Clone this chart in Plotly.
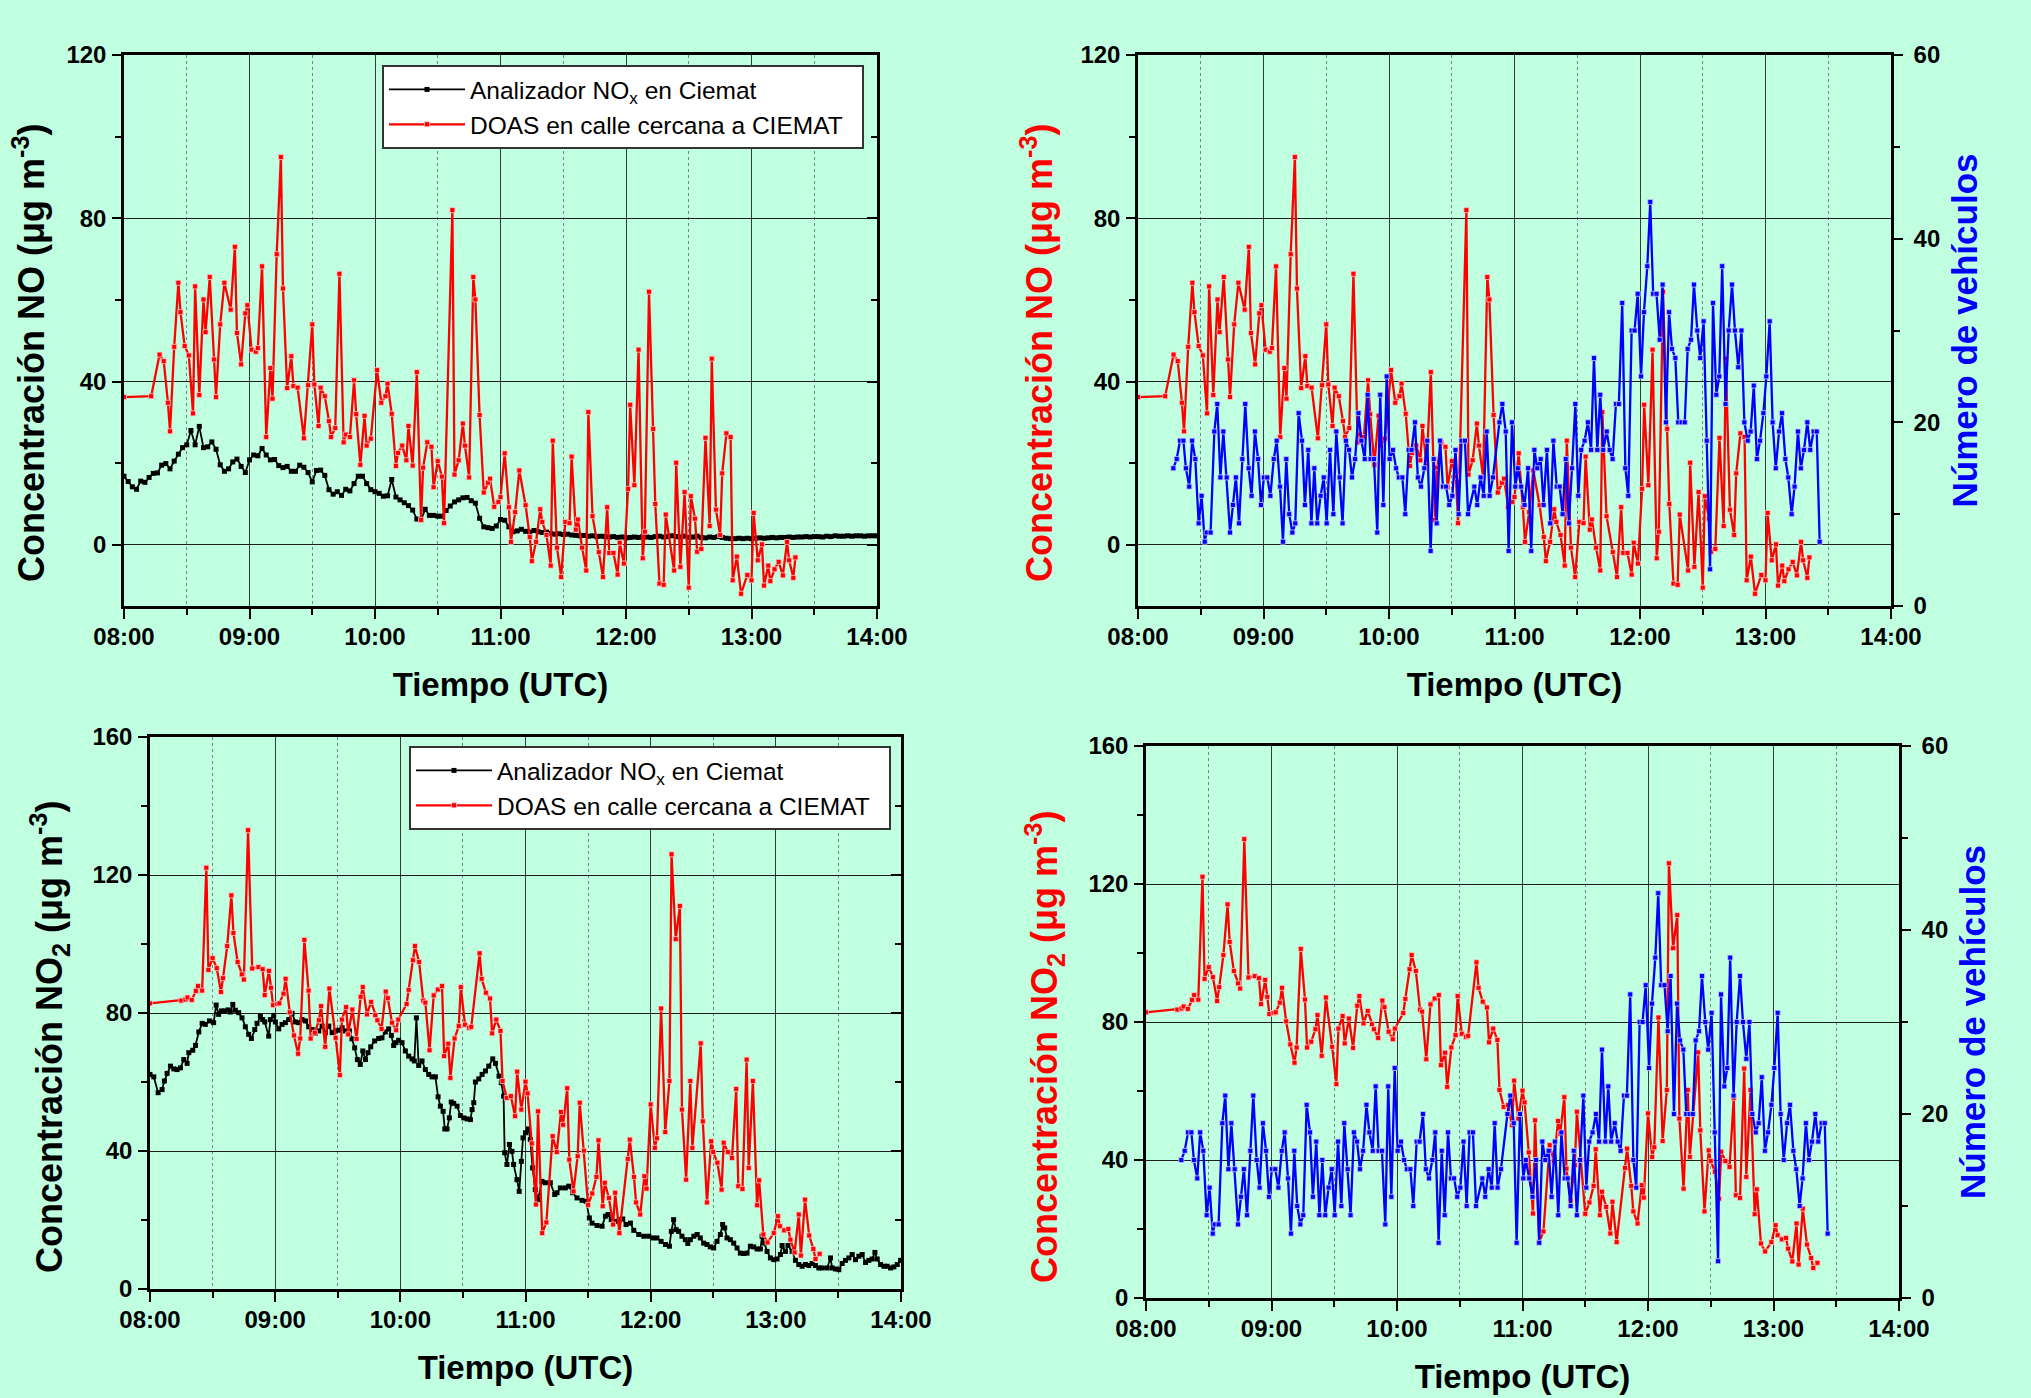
import pandas as pd
import plotly.graph_objects as go

# ---------------- data (time = minutes after 08:00 UTC) ----------------
hour_labels = ["08:00", "09:00", "10:00", "11:00", "12:00", "13:00", "14:00"]
half_labels = ["08:30", "09:30", "10:30", "11:30", "12:30", "13:30"]
no_ticks = [0, 40, 80, 120]
no_minor = [20, 60, 100]
no2_ticks = [0, 40, 80, 120, 160]
no2_minor = [20, 60, 100, 140]
veh_ticks = [0, 20, 40, 60]
veh_minor = [10, 30, 50]

# NO - DOAS (street)
no_doas_min = [0, 13, 17, 19, 21, 22, 24, 26, 27, 29, 31, 33, 34, 36, 38, 39, 41, 43, 44, 46,
               48, 51, 53, 54, 56, 58, 59, 61, 63, 64, 66, 68, 70, 71, 73, 75, 76, 78, 80, 81,
               83, 86, 88, 90, 91, 93, 94, 96, 98, 99, 101, 103, 105, 106, 108, 110, 111, 113, 115, 116,
               118, 121, 123, 125, 126, 128, 130, 131, 133, 135, 136, 138, 140, 142, 143, 145, 147, 148, 150, 152,
               153, 157, 158, 160, 162, 163, 165, 167, 168, 170, 172, 174, 175, 177, 179, 180, 182, 184, 185, 187,
               189, 192, 194, 195, 197, 199, 200, 202, 204, 205, 207, 209, 211, 213, 214, 216, 217, 219, 221, 222,
               224, 227, 229, 231, 232, 234, 236, 237, 239, 241, 242, 244, 246, 248, 249, 251, 253, 254, 256, 258,
               259, 263, 264, 266, 268, 270, 271, 273, 274, 276, 278, 280, 281, 283, 285, 286, 288, 290, 291, 293,
               295, 298, 300, 301, 303, 305, 306, 308, 309, 311, 313, 315, 317, 318, 320, 321]
no_doas_val = [36.2, 36.4, 46.6, 45.0, 34.8, 27.8, 48.5, 64.2, 57.0, 48.7, 46.4, 32.2, 63.3, 36.7, 60.1, 52.1, 65.6, 45.4, 36.2, 54.0,
               64.2, 57.6, 73.0, 51.9, 44.2, 56.7, 58.7, 47.8, 47.3, 48.2, 68.2, 26.4, 43.3, 35.8, 71.2, 95.0, 62.8, 38.4, 46.2, 38.9,
               38.5, 26.1, 39.1, 54.0, 39.3, 29.1, 38.5, 36.4, 30.3, 26.4, 28.6, 66.4, 25.1, 27.0, 26.4, 40.3, 32.0, 19.6, 31.6, 24.3,
               26.0, 42.8, 34.8, 36.4, 39.5, 32.1, 19.3, 22.5, 24.3, 20.7, 29.1, 19.4, 42.3, 6.1, 18.9, 25.1, 24.0, 14.1, 20.5, 16.7,
               5.3, 82.0, 17.2, 20.7, 29.7, 24.3, 16.5, 65.6, 60.1, 31.8, 12.8, 15.2, 16.2, 9.3, 10.5, 11.7, 22.4, 9.2, 0.7, 8.0,
               18.2, 9.7, 1.9, -4.0, 0.7, 8.7, 5.6, 2.4, -5.1, 25.5, -0.7, -7.9, 5.6, 5.3, 21.6, 3.7, 6.2, -0.7, -6.3, 32.5,
               7.0, -1.8, -7.9, 9.2, -2.0, -2.0, -7.3, 0.5, -4.6, 13.7, 34.3, 14.6, 47.8, -3.3, 3.2, 62.0, 28.4, 10.0, -9.5, -9.8,
               7.4, -6.3, 20.1, -5.4, 12.9, -10.5, 11.9, 6.4, -1.7, -1.0, 26.2, 4.6, 45.6, 8.6, 2.4, 17.5, 27.3, 26.4, -8.7, -2.9,
               -12.0, -7.4, -8.7, 7.8, -3.8, 0.1, -10.0, -5.1, -8.9, -6.0, -4.2, -7.5, 0.7, -3.8, -8.1, -3.1]

# NO - analyser at CIEMAT (every 2 min)
no_anal_min = list(range(0, 361, 2))
no_anal_val = [16.8, 15.5, 14.2, 13.6, 15.6, 15.3, 16.5, 17.5, 17.6, 19.5,
               19.9, 18.6, 20.5, 22.2, 23.8, 24.5, 28.0, 24.5, 29.0, 23.8,
               24.0, 25.2, 23.4, 19.6, 18.0, 18.6, 20.3, 21.0, 19.2, 17.7,
               20.8, 22.0, 21.8, 23.6, 22.0, 20.8, 20.9, 19.4, 18.9, 19.2,
               18.0, 18.0, 19.5, 19.0, 17.7, 15.4, 18.2, 18.3, 17.0, 13.5,
               12.4, 13.0, 12.1, 13.6, 13.2, 15.0, 16.8, 16.8, 15.0, 13.5,
               13.0, 12.6, 11.9, 12.0, 16.0, 11.7, 11.0, 10.3, 9.6, 8.5,
               6.3, 6.1, 8.7, 7.2, 7.2, 7.0, 7.0, 8.4, 9.5, 10.5,
               11.0, 11.5, 11.6, 10.8, 10.2, 6.5, 4.4, 4.2, 4.0, 4.6,
               6.2, 6.0, 4.4, 3.2, 3.4, 3.8, 3.3, 3.1, 3.5, 3.2,
               3.0, 3.1, 2.8, 2.6, 2.7, 2.5, 2.6, 2.4, 2.3, 2.2,
               2.3, 2.1, 2.2, 2.0, 2.1, 2.0, 1.9, 2.0, 1.8, 1.9,
               1.7, 1.8, 1.9, 1.8, 2.0, 1.9, 1.8, 2.0, 2.1, 1.9,
               2.0, 2.2, 2.0, 1.9, 2.1, 1.8, 1.9, 2.1, 1.8, 1.7,
               1.9, 1.8, 2.0, 1.8, 1.6, 1.5, 1.5, 1.6, 1.5, 1.6,
               1.5, 1.6, 1.7, 1.6, 1.7, 1.8, 1.7, 1.8, 1.8, 1.9,
               1.8, 1.9, 1.9, 2.0, 1.9, 2.0, 2.0, 1.9, 2.1, 2.0,
               2.2, 2.1, 2.1, 2.2, 2.1, 2.2, 2.2, 2.1, 2.2, 2.2,
               2.2]

# NO2 - DOAS (street)
no2_doas_min = [0, 15, 17, 18, 20, 22, 23, 25, 27, 28, 30, 32, 34, 35, 37, 39, 40, 42, 44, 45,
                47, 49, 52, 54, 55, 57, 58, 59, 61, 62, 64, 65, 67, 69, 71, 72, 74, 76, 77, 79,
                81, 82, 84, 86, 89, 91, 92, 94, 95, 97, 99, 101, 102, 104, 106, 108, 109, 111, 113, 114,
                116, 118, 119, 123, 124, 126, 127, 129, 131, 132, 134, 136, 138, 140, 141, 143, 144, 146, 148, 149,
                151, 153, 154, 158, 159, 161, 163, 164, 166, 168, 169, 171, 173, 175, 176, 178, 180, 181, 183, 185,
                186, 188, 190, 193, 195, 197, 198, 200, 201, 203, 205, 206, 208, 210, 212, 214, 215, 217, 218, 220,
                222, 223, 225, 229, 230, 232, 233, 235, 237, 238, 240, 242, 243, 245, 247, 249, 250, 252, 254, 255,
                257, 259, 260, 264, 265, 267, 269, 270, 272, 274, 275, 277, 279, 281, 282, 284, 286, 287, 289, 291,
                292, 294, 296, 299, 301, 302, 304, 306, 307, 309, 311, 312, 314, 316, 318, 319, 321]
no2_doas_val = [82.8, 83.6, 83.9, 84.5, 83.8, 86.4, 87.8, 86.5, 122.1, 92.5, 95.9, 93.0, 86.1, 90.1, 99.4, 114.1, 103.2, 94.8, 91.2, 89.7,
                133.0, 92.9, 93.3, 92.7, 85.2, 92.2, 87.3, 82.3, 82.6, 82.8, 85.6, 89.9, 80.2, 73.5, 68.2, 72.6, 101.2, 86.5, 72.6, 74.3,
                77.9, 82.0, 70.2, 87.1, 72.8, 62.0, 78.1, 81.7, 73.8, 81.0, 72.5, 84.7, 87.5, 79.6, 83.2, 79.4, 77.9, 75.4, 86.2, 84.3,
                77.2, 75.0, 78.1, 82.6, 86.7, 95.3, 99.4, 94.8, 83.6, 83.0, 69.2, 85.1, 86.8, 87.8, 67.5, 71.1, 61.2, 72.6, 76.2, 87.5,
                76.6, 75.7, 76.0, 97.3, 89.9, 85.9, 84.2, 74.1, 78.1, 74.8, 60.3, 55.4, 55.9, 50.1, 63.0, 52.0, 60.1, 56.7, 42.2, 24.5,
                51.5, 16.2, 19.3, 44.3, 39.7, 51.3, 47.6, 58.2, 37.5, 28.3, 38.5, 54.0, 40.1, 24.4, 27.7, 32.5, 43.1, 24.0, 30.8, 26.4,
                18.7, 27.9, 16.2, 37.7, 43.3, 32.5, 25.1, 21.6, 32.7, 29.1, 53.5, 40.9, 43.7, 81.3, 45.5, 60.3, 126.0, 101.4, 111.0, 52.0,
                31.7, 60.3, 40.9, 71.2, 48.6, 25.1, 42.8, 39.7, 36.6, 28.8, 42.4, 39.7, 38.0, 58.0, 29.8, 29.0, 66.5, 35.1, 60.3, 24.3,
                31.5, 15.8, 13.5, 16.2, 21.1, 18.2, 17.0, 17.4, 14.3, 10.6, 21.6, 9.7, 25.9, 15.5, 11.6, 8.7, 10.2]

# NO2 - analyser at CIEMAT
no2_anal_min = [0, 1.8, 3.9, 5.8, 6.9, 8.2, 9.8, 11.4, 13.0, 14.6, 16.2, 17.8, 18.6, 20.5, 21.8, 23.4, 25.0, 26.5, 28.5, 30.5,
                31.7, 32.9, 34.2, 35.8, 37.4, 38.5, 39.7, 40.9, 42.5, 44.1, 45.7, 47.3, 48.6, 50.2, 51.3, 52.9, 54.0, 55.0, 56.9, 57.7,
                59.3, 60.1, 61.7, 63.3, 64.9, 66.5, 68.1, 69.7, 71.3, 72.9, 74.5, 76.1, 77.7, 79.3, 80.9, 82.5, 84.1, 85.7, 87.3, 88.9,
                90.5, 92.1, 93.7, 95.6, 96.8, 98.1, 99.4, 100.8, 102.0, 103.3, 104.5, 105.8, 107.7, 109.6, 111.2, 112.8, 114.4, 115.7, 116.8, 117.9,
                119.2, 120.8, 122.4, 124.0, 125.6, 126.7, 127.7, 128.8, 130.4, 132.0, 133.6, 135.2, 136.8, 138.1, 139.2, 140.5, 141.3, 142.4, 143.5, 144.4,
                145.6, 147.2, 148.8, 150.4, 152.0, 153.6, 154.4, 155.2, 156.0, 157.6, 159.2, 160.8, 162.4, 164.3, 165.6, 167.3, 168.4, 169.5, 170.0, 171.1,
                172.3, 173.5, 174.3, 175.9, 177.0, 178.0, 178.8, 180.0, 181.4, 182.3, 183.4, 184.7, 186.0, 187.9, 189.5, 191.9, 194.0, 195.1, 196.7, 199.1,
                200.7, 202.6, 204.7, 207.1, 209.1, 210.6, 211.9, 214.3, 216.7, 218.3, 219.6, 221.1, 223.1, 225.0, 226.6, 228.2, 230.3, 231.9, 234.3, 236.7,
                239.1, 241.0, 243.0, 245.0, 247.1, 249.0, 249.9, 251.0, 252.2, 253.4, 255.0, 256.6, 257.8, 259.0, 260.7, 262.3, 263.8, 265.4, 267.0, 268.6,
                270.2, 271.8, 273.4, 274.5, 275.5, 276.6, 278.2, 279.8, 281.4, 283.0, 284.6, 286.2, 287.8, 289.4, 291.0, 292.6, 293.4, 294.6, 295.8, 297.4,
                299.0, 300.6, 302.2, 303.0, 304.6, 305.8, 307.8, 309.4, 311.0, 312.6, 314.2, 315.8, 317.4, 319.0, 320.6, 322.2, 324.6, 326.2, 327.0, 328.6,
                330.2, 331.8, 333.4, 335.0, 336.6, 338.2, 339.8, 341.4, 343.0, 344.6, 346.2, 347.5, 348.6, 350.2, 351.8, 353.4, 355.0, 356.6, 358.2, 359.8]
no2_anal_val = [62.2, 61.5, 56.9, 57.8, 60.3, 62.5, 64.6, 63.8, 63.6, 64.1, 66.5, 65.4, 68.5, 69.2, 70.6, 74.5, 77.0, 76.7, 77.7, 77.2,
                82.3, 79.6, 80.6, 80.6, 80.9, 80.3, 82.5, 80.8, 80.1, 78.6, 76.0, 73.8, 72.6, 75.2, 77.0, 79.1, 78.1, 77.4, 73.3, 78.1,
                79.3, 77.4, 75.4, 76.7, 77.2, 78.1, 79.9, 77.4, 77.2, 78.1, 77.7, 76.0, 75.2, 74.1, 74.8, 76.2, 74.3, 76.2, 74.3, 74.8,
                75.0, 75.7, 74.8, 74.8, 72.5, 69.9, 66.5, 65.1, 69.0, 66.5, 68.5, 70.2, 71.9, 72.6, 72.8, 74.5, 75.4, 73.5, 70.6, 71.4,
                72.1, 71.4, 69.0, 67.5, 66.7, 66.1, 78.6, 64.8, 66.1, 63.6, 62.2, 61.5, 61.5, 55.7, 53.0, 51.5, 46.4, 46.4, 49.6, 54.2,
                53.8, 53.0, 50.3, 49.6, 49.3, 49.1, 52.0, 54.0, 60.0, 60.9, 62.2, 63.2, 64.6, 66.7, 65.4, 61.7, 59.8, 55.9, 39.5, 36.1,
                41.9, 39.9, 36.1, 31.7, 28.3, 37.0, 43.8, 45.3, 46.4, 43.3, 35.1, 28.8, 25.9, 31.2, 30.8, 30.8, 27.4, 27.9, 29.3, 29.3,
                29.8, 27.9, 26.4, 25.7, 25.4, 20.6, 19.1, 18.4, 18.2, 21.1, 21.6, 20.1, 19.6, 20.1, 20.3, 18.7, 19.1, 17.0, 15.8, 15.3,
                15.3, 14.8, 14.8, 13.8, 12.9, 12.4, 16.7, 20.1, 17.2, 16.7, 15.3, 14.3, 13.2, 14.3, 15.3, 15.8, 14.8, 13.3, 12.9, 12.2,
                11.9, 13.8, 15.8, 18.7, 17.7, 14.8, 14.3, 13.3, 11.9, 10.4, 10.3, 10.4, 12.4, 12.2, 11.6, 11.6, 15.3, 13.3, 10.9, 9.0,
                8.5, 8.7, 10.0, 12.6, 10.9, 12.6, 10.9, 8.3, 7.1, 6.6, 7.1, 6.8, 7.4, 6.8, 6.1, 6.1, 6.1, 9.0, 6.1, 5.8,
                5.6, 7.4, 8.3, 9.0, 10.0, 8.5, 9.5, 10.0, 7.7, 8.3, 8.7, 10.6, 8.7, 7.1, 6.6, 6.6, 6.1, 6.4, 7.1, 8.3]

# Number of vehicles
veh_min = [16.9, 18.5, 20.1, 21.7, 22.9, 24.5, 25.9, 27.4, 29.0, 30.4, 31.9, 32.8, 34.7, 36.5, 37.9, 39.4, 40.8, 42.4, 44.0, 45.4,
           46.8, 48.3, 49.9, 51.3, 52.9, 54.3, 55.9, 57.4, 58.8, 60.2, 61.8, 63.3, 64.9, 66.3, 67.9, 69.3, 70.9, 72.3, 73.8, 75.2,
           76.8, 78.4, 79.8, 81.4, 82.9, 84.3, 85.7, 87.3, 88.8, 90.2, 91.8, 93.4, 94.8, 96.4, 97.8, 99.4, 100.9, 102.3, 103.8, 105.4,
           106.8, 108.4, 109.8, 111.2, 112.8, 114.4, 115.8, 117.3, 118.9, 120.3, 121.9, 123.4, 124.7, 126.4, 127.8, 129.4, 130.8, 132.4, 133.8, 135.3,
           136.9, 138.3, 139.9, 141.4, 142.8, 144.4, 145.8, 147.3, 148.8, 150.3, 151.8, 153.3, 154.7, 156.3, 157.8, 160.8, 162.2, 163.8, 165.3, 166.7,
           168.1, 169.7, 172.8, 174.2, 175.8, 177.2, 178.8, 180.4, 181.6, 183.2, 184.8, 186.5, 188.0, 189.5, 190.9, 192.5, 193.9, 195.5, 197.1, 198.6,
           200.2, 201.6, 203.0, 204.5, 206.0, 207.5, 209.1, 210.5, 211.9, 213.5, 215.1, 216.6, 218.0, 219.6, 221.0, 222.4, 224.1, 225.5, 226.9, 228.5,
           229.9, 231.5, 233.0, 234.4, 236.0, 237.4, 238.9, 240.5, 241.9, 243.5, 244.9, 246.3, 247.9, 249.4, 250.8, 252.4, 253.9, 255.3, 256.9, 258.3,
           259.9, 261.4, 262.8, 264.4, 265.8, 267.4, 268.8, 270.4, 271.9, 273.5, 274.9, 276.5, 277.9, 279.3, 280.9, 282.4, 284.0, 285.4, 287.0, 288.5,
           289.9, 291.5, 292.9, 294.4, 295.9, 297.4, 299.0, 300.4, 302.0, 303.4, 304.9, 306.5, 307.9, 309.5, 310.9, 312.5, 313.9, 315.5, 316.9, 318.4,
           320.0, 321.4, 323.0, 324.5, 325.9]
veh_count = [15, 16, 18, 18, 15, 13, 18, 16, 9, 12, 7, 8, 8, 19, 22, 14, 19, 14, 8, 11,
             14, 9, 16, 22, 15, 12, 19, 16, 11, 14, 14, 12, 16, 18, 13, 7, 16, 10, 8, 9,
             21, 18, 11, 17, 9, 15, 9, 12, 14, 9, 17, 10, 19, 14, 9, 18, 17, 14, 16, 21,
             18, 16, 23, 16, 16, 8, 23, 11, 25, 16, 17, 15, 14, 14, 10, 17, 17, 20, 14, 13,
             15, 18, 6, 16, 9, 18, 13, 13, 11, 12, 17, 10, 18, 18, 10, 13, 11, 14, 12, 19,
             12, 14, 20, 22, 19, 6, 20, 13, 15, 13, 11, 15, 6, 17, 15, 16, 11, 17, 9, 18,
             13, 13, 10, 16, 9, 15, 22, 12, 17, 18, 20, 17, 27, 17, 23, 17, 19, 17, 16, 22,
             22, 33, 15, 12, 30, 30, 34, 25, 32, 37, 44, 34, 34, 29, 35, 20, 32, 28, 27, 20,
             20, 20, 28, 29, 35, 30, 27, 31, 18, 4, 33, 23, 25, 37, 22, 30, 35, 30, 26, 30,
             20, 18, 19, 24, 16, 18, 21, 25, 31, 20, 15, 19, 21, 16, 14, 10, 13, 19, 15, 17,
             20, 17, 19, 19, 7]

# ---------------- helpers ----------------
T0 = pd.Timestamp("2012-01-01 08:00:00")


def ts(mins):
    return [T0 + pd.Timedelta(minutes=float(m)) for m in mins]


def hhmm(lbls):
    return [pd.Timestamp("2012-01-01 " + s) for s in lbls]


FONT = "Liberation Sans, Arial, Helvetica, sans-serif"
BG = "#C0FFE0"
RED = "#FF0000"
BLUE = "#0000FF"
W, H = 2031, 1398
NB = "\u00a0"


def dom_x(a, b):
    return [a / W, b / W]


def dom_y(top, bottom):
    return [1 - bottom / H, 1 - top / H]


def xaxis(domain, anchor):
    return dict(
        domain=domain, anchor=anchor, type="date",
        range=[T0, T0 + pd.Timedelta(hours=6)],
        tickmode="array", tickvals=hhmm(hour_labels), ticktext=hour_labels,
        ticks="outside", ticklen=10, tickwidth=2, tickcolor="black",
        showline=True, linewidth=2.5, linecolor="black", mirror=True,
        showgrid=True, gridcolor="#3a3a3a", gridwidth=1.2, zeroline=False,
        minor=dict(tickmode="array", tickvals=hhmm(half_labels), ticks="outside", ticklen=6,
                   tickwidth=1.5, tickcolor="black", showgrid=True, gridcolor="#6d8a7c",
                   griddash="dot", gridwidth=1),
        tickfont=dict(family=FONT, size=24, color="black", weight="bold"),
        ticklabelstandoff=-3,
        title=dict(text="Tiempo (UTC)", standoff=25,
                   font=dict(family=FONT, size=33, color="black", weight="bold")),
    )


def yaxis(domain, anchor, rng, tv, mv, title, tcolor, side="left", overlaying=None,
          grid=True, mirror=True, standoff=19, lstand=1):
    d = dict(
        domain=domain, anchor=anchor, side=side, range=rng,
        tickmode="array", tickvals=tv, ticktext=[str(v) for v in tv],
        ticks="outside", ticklen=9, tickwidth=2, tickcolor="black",
        showline=True, linewidth=2.5, linecolor="black", mirror=mirror,
        showgrid=grid, gridcolor="#1e1e1e", gridwidth=1, zeroline=False,
        minor=dict(tickmode="array", tickvals=mv, ticks="outside", ticklen=6,
                   tickwidth=1.5, tickcolor="black", showgrid=False),
        tickfont=dict(family=FONT, size=24, color="black", weight="bold"),
        ticklabelstandoff=lstand,
    )
    if title:
        d["title"] = dict(text=title, standoff=standoff,
                          font=dict(family=FONT, size=35, color=tcolor, weight="bold"))
    if overlaying:
        d["overlaying"] = overlaying
    return d


def inner_ticks(anchor, overlaying, rng, tv, mv):
    return dict(
        anchor=anchor, overlaying=overlaying, side="right", range=rng,
        tickmode="array", tickvals=tv, ticks="inside", ticklen=10, tickwidth=2,
        tickcolor="black", showticklabels=False, showgrid=False, zeroline=False,
        showline=False,
        minor=dict(tickmode="array", tickvals=mv, ticks="inside", ticklen=6,
                   tickwidth=1.5, tickcolor="black", showgrid=False),
    )


def series(xm, yv, color, xa, ya, name=None, legend=None, lw=2.3, msize=5, edge=None):
    return go.Scatter(
        x=ts(xm), y=yv, xaxis=xa, yaxis=ya, mode="lines+markers",
        name=name, showlegend=name is not None, legend=legend,
        line=dict(color=color, width=lw),
        marker=dict(symbol="square", size=msize, color=color,
                    line=dict(width=0.8 if edge else 0, color=edge or color)),
    )


def ytitle(text, color, xpx, ypx):
    return dict(text=text, xref="paper", yref="paper", x=xpx / W, y=1 - ypx / H,
                xanchor="center", yanchor="middle", textangle=-90, showarrow=False,
                font=dict(family=FONT, size=36, color=color, weight="bold"))


NO_TITLE = "Concentración NO (μg m<sup>-3</sup>)"
NO2_TITLE = "Concentración NO<sub>2</sub> (μg m<sup>-3</sup>)"
VEH_TITLE = "Número de vehículos"
LEG1 = "Analizador NO<sub>x</sub> en Ciemat"
LEG2 = "DOAS en calle cercana a CIEMAT" + NB * 2

fig = go.Figure()
# top-left
fig.add_trace(series(no_anal_min, no_anal_val, "black", "x", "y", LEG1, "legend", lw=1.8))
fig.add_trace(series(no_doas_min, no_doas_val, RED, "x", "y", LEG2, "legend", edge="#ffc8c8"))
fig.add_trace(go.Scatter(x=[], y=[], xaxis="x", yaxis="y9", showlegend=False))
# top-right
fig.add_trace(series(no_doas_min, no_doas_val, RED, "x2", "y2", edge="#ffc8c8"))
fig.add_trace(series(veh_min, veh_count, BLUE, "x2", "y3", edge="#c8c8ff"))
# bottom-left
fig.add_trace(series(no2_anal_min, no2_anal_val, "black", "x3", "y4", LEG1, "legend2", lw=1.8))
fig.add_trace(series(no2_doas_min, no2_doas_val, RED, "x3", "y4", LEG2, "legend2", edge="#ffc8c8"))
fig.add_trace(go.Scatter(x=[], y=[], xaxis="x3", yaxis="y10", showlegend=False))
# bottom-right
fig.add_trace(series(no2_doas_min, no2_doas_val, RED, "x4", "y5", edge="#ffc8c8"))
fig.add_trace(series(veh_min, veh_count, BLUE, "x4", "y6", edge="#c8c8ff"))

TL_X, TL_Y = dom_x(124, 877), dom_y(55, 606)
TR_X, TR_Y = dom_x(1138, 1891), dom_y(55, 606)
BL_X, BL_Y = dom_x(150, 901), dom_y(737, 1289)
BR_X, BR_Y = dom_x(1146, 1899), dom_y(746, 1298)

legend_common = dict(
    xanchor="left", yanchor="top", bgcolor="white", bordercolor="#333333", borderwidth=2,
    font=dict(family=FONT, size=24.5, color="black"), itemwidth=76, traceorder="normal",
)

fig.update_layout(
    width=W, height=H, autosize=False, template="none",
    margin=dict(l=0, r=0, t=0, b=0, pad=0),
    paper_bgcolor=BG, plot_bgcolor=BG,
    font=dict(family=FONT, color="black"),
    xaxis=xaxis(TL_X, "y"),
    yaxis=yaxis(TL_Y, "x", [-15, 120], no_ticks, no_minor, None, "black"),
    yaxis9=inner_ticks("x", "y", [-15, 120], no_ticks, no_minor),
    xaxis2=xaxis(TR_X, "y2"),
    yaxis2=yaxis(TR_Y, "x2", [-15, 120], no_ticks, no_minor, None, RED, mirror=False),
    yaxis3=yaxis(TR_Y, "x2", [0, 60], veh_ticks, veh_minor, VEH_TITLE, BLUE, side="right",
                 overlaying="y2", grid=False, mirror=False, standoff=14, lstand=6),
    xaxis3=xaxis(BL_X, "y4"),
    yaxis4=yaxis(BL_Y, "x3", [0, 160], no2_ticks, no2_minor, None, "black"),
    yaxis10=inner_ticks("x3", "y4", [0, 160], no2_ticks, no2_minor),
    xaxis4=xaxis(BR_X, "y5"),
    yaxis5=yaxis(BR_Y, "x4", [0, 160], no2_ticks, no2_minor, None, RED, mirror=False),
    yaxis6=yaxis(BR_Y, "x4", [0, 60], veh_ticks, veh_minor, VEH_TITLE, BLUE, side="right",
                 overlaying="y5", grid=False, mirror=False, standoff=14, lstand=6),
    legend=dict(x=382 / W, y=1 - 65 / H, **legend_common),
    legend2=dict(x=409 / W, y=1 - 746 / H, **legend_common),
    showlegend=True,
    annotations=[
        ytitle(NO_TITLE, "black", 29, 353),
        ytitle(NO_TITLE, RED, 1037, 353),
        ytitle(NO2_TITLE, "black", 49, 1037),
        ytitle(NO2_TITLE, RED, 1044, 1047),
    ],
)

fig.write_html("out.html", config={"displayModeBar": False},
               post_script="document.body.style.margin='0';document.body.style.overflow='hidden';")
